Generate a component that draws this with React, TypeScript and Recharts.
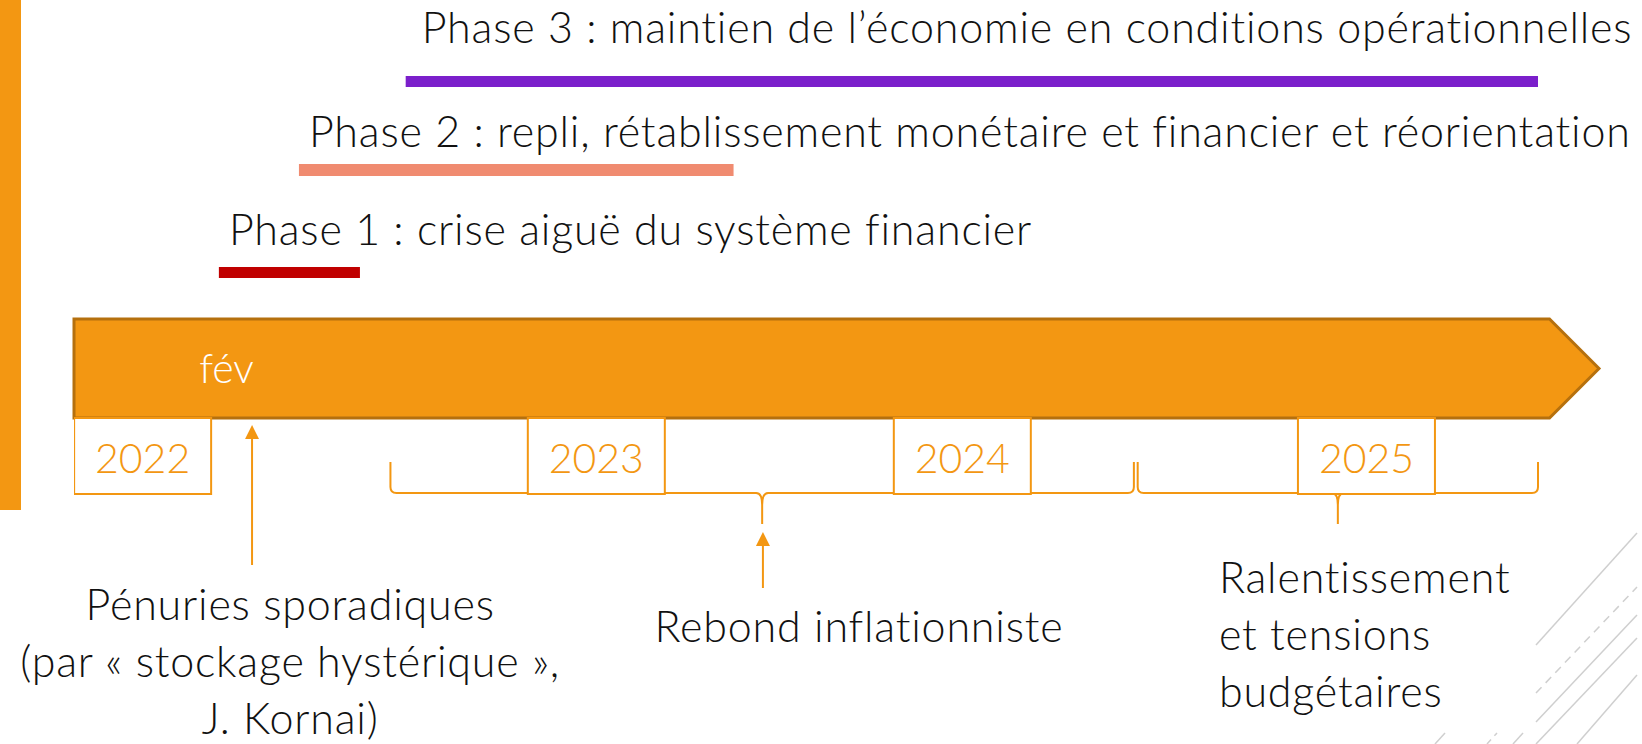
import React from "react";
import { ComposedChart, XAxis, YAxis, ReferenceArea, ReferenceDot, Scatter } from "recharts";

// ---------- data ----------
const timelineStart = 2022;
const timelineEnd = 2026;

const years = ["2022", "2023", "2024", "2025"];
const yearAt = [2022.18, 2023.37, 2024.33, 2025.39];

const phaseNames = [
  "Phase 1 : crise aiguë du système financier",
  "Phase 2 : repli, rétablissement monétaire et financier et réorientation",
  "Phase 3 : maintien de l’économie en conditions opérationnelles",
];
const phaseStart = [2022.38, 2022.59, 2022.87];
const phaseEnd = [2022.75, 2023.73, 2025.84];

const monthLabel = "fév";
const monthAt = 2022.4;

const periodStart = [2022.83, 2024.79];
const periodEnd = [2024.78, 2025.84];

const eventNames = [
  ["Pénuries sporadiques", "(par « stockage hystérique »,", "J. Kornai)"],
  ["Rebond inflationniste"],
  ["Ralentissement", "et tensions", "budgétaires"],
];
const eventAt = [2022.467, 2023.807, 2025.31];
const eventLabelAt = [2022.567, 2024.059, 2025.003];

// ---------- styles / layout ----------
const W = 1642;
const H = 744;
const ORANGE = "#F39712";
const ORANGE_DARK = "#B5700E";
const PHASE_COLORS = ["#C00000", "#F08B70", "#7B1FCB"];
const FONT = "Lato, 'Open Sans', sans-serif";

// vertical layout (px rows)
const PHASE_BAR = [
  [267, 278],
  [164, 176],
  [76, 87],
];
const PHASE_TEXT_BASE = [245, 147, 43];
const PHASE_TEXT_DX = [10, 10, 16];
const ARROW_TOP = 319;
const ARROW_BOTTOM = 418;
const YEAR_ROW = 456;
const BRACE_TOP = 462;
const BRACE_LINE = 493;
const EVENT_ARROWS = [
  { from: 565, to: 425 },
  { from: 588, to: 532 },
  null,
];
const EVENT_TEXT = [
  { base: 620, anchor: "middle" },
  { base: 642, anchor: "middle" },
  { base: 593, anchor: "start" },
];
const LINE_GAP = 57;

const ArrowShape = (p: any) => {
  const { x, y, width, height } = p;
  const head = height / 2;
  const d = `M${x},${y} L${x + width - head},${y} L${x + width},${y + height / 2} L${x + width - head},${y + height} L${x},${y + height} Z`;
  return <path d={d} fill={ORANGE} stroke={ORANGE_DARK} strokeWidth={3} strokeLinejoin="miter" />;
};

const BraceShape = (p: any) => {
  const { x, y, width, height } = p;
  const T = y;
  const L = y + height;
  const r = 6;
  const tip = 31;
  const xc = x + width / 2;
  const x2 = x + width;
  const d =
    `M${x},${T} L${x},${L - r} Q${x},${L} ${x + r},${L} L${xc - r},${L} Q${xc},${L} ${xc},${L + 12} L${xc},${L + tip} ` +
    `M${xc},${L + 12} Q${xc},${L} ${xc + r},${L} L${x2 - r},${L} Q${x2},${L} ${x2},${L - r} L${x2},${T}`;
  return <path d={d} fill="none" stroke={ORANGE} strokeWidth={2} />;
};

const YearBox = (p: any) => {
  const { cx, cy, payload } = p;
  const w = 137;
  const h = 76;
  return (
    <g>
      <rect x={cx - w / 2} y={cy - h / 2} width={w} height={h} fill="#fff" stroke={ORANGE} strokeWidth={2} />
      <text x={cx} y={cy + 17} textAnchor="middle" fontFamily={FONT} fontSize={41} fontWeight={300} fill={ORANGE}>
        {payload.label}
      </text>
    </g>
  );
};

export default function App() {
  const yearData = years.map((label, i) => ({ t: yearAt[i], y: YEAR_ROW, label }));

  return (
    <div style={{ position: "absolute", left: 0, top: 0, width: W, height: H, background: "#fff", overflow: "hidden" }}>
      <div style={{ position: "absolute", left: 0, top: 0, width: 21, height: 510, background: ORANGE }} />
      <svg style={{ position: "absolute", left: 0, top: 0 }} width={W} height={H}>
        <g stroke="#CFCFCF" strokeWidth={1.5} fill="none">
          <line x1={1536} y1={645} x2={1637} y2={533} />
          <line x1={1536} y1={693} x2={1637} y2={587} strokeDasharray="8 6" />
          <line x1={1536} y1={722} x2={1637} y2={615} />
          <line x1={1536} y1={744} x2={1637} y2={638} />
          <line x1={1577} y1={744} x2={1637} y2={675} />
          <line x1={1487} y1={744} x2={1497} y2={733} strokeDasharray="6 5" />
          <line x1={1513} y1={744} x2={1523} y2={733} />
          <line x1={1435} y1={744} x2={1445} y2={733} />
        </g>
      </svg>
      <div style={{ position: "absolute", left: 0, top: 0 }}>
        <ComposedChart width={W} height={H} margin={{ top: 0, right: 43, bottom: 0, left: 74 }} data={yearData}>
          <XAxis type="number" dataKey="t" domain={[timelineStart, timelineEnd]} hide allowDataOverflow />
          <YAxis type="number" dataKey="y" domain={[0, H]} reversed hide allowDataOverflow />

          {/* phases */}
          {phaseNames.map((name, i) => (
            <ReferenceArea
              key={"pb" + i}
              x1={phaseStart[i]}
              x2={phaseEnd[i]}
              y1={PHASE_BAR[i][0]}
              y2={PHASE_BAR[i][1]}
              fill={PHASE_COLORS[i]}
              fillOpacity={1}
              ifOverflow="visible"
            />
          ))}
          {phaseNames.map((name, i) => (
            <ReferenceDot
              key={"pt" + i}
              x={phaseStart[i]}
              y={PHASE_TEXT_BASE[i]}
              r={0}
              ifOverflow="visible"
              shape={(p: any) => (
                <text
                  x={p.cx + PHASE_TEXT_DX[i]}
                  y={p.cy}
                  fontFamily={FONT}
                  fontSize={43}
                  fontWeight={300}
                  letterSpacing={0.8}
                  fill="#111"
                >
                  {name}
                </text>
              )}
            />
          ))}

          {/* timeline arrow */}
          <ReferenceArea
            x1={timelineStart}
            x2={timelineEnd}
            y1={ARROW_TOP}
            y2={ARROW_BOTTOM}
            ifOverflow="visible"
            shape={ArrowShape}
          />
          <ReferenceDot
            x={monthAt}
            y={383}
            r={0}
            ifOverflow="visible"
            shape={(p: any) => (
              <text x={p.cx} y={p.cy} textAnchor="middle" fontFamily={FONT} fontSize={41} fontWeight={300} fill="#fff">
                {monthLabel}
              </text>
            )}
          />

          {/* periods (braces) */}
          {periodStart.map((s, i) => (
            <ReferenceArea
              key={"br" + i}
              x1={s}
              x2={periodEnd[i]}
              y1={BRACE_TOP}
              y2={BRACE_LINE}
              ifOverflow="visible"
              shape={BraceShape}
            />
          ))}

          {/* events */}
          {eventNames.map((lines, i) =>
            EVENT_ARROWS[i] ? (
              <ReferenceDot
                key={"ea" + i}
                x={eventAt[i]}
                y={EVENT_ARROWS[i]!.to}
                r={0}
                ifOverflow="visible"
                shape={(p: any) => {
                  const len = EVENT_ARROWS[i]!.from - EVENT_ARROWS[i]!.to;
                  return (
                    <g>
                      <line x1={p.cx} y1={p.cy + 12} x2={p.cx} y2={p.cy + len} stroke={ORANGE} strokeWidth={2} />
                      <path d={`M${p.cx},${p.cy} L${p.cx - 7},${p.cy + 14} L${p.cx + 7},${p.cy + 14} Z`} fill={ORANGE} />
                    </g>
                  );
                }}
              />
            ) : null
          )}
          {eventNames.map((lines, i) => (
            <ReferenceDot
              key={"et" + i}
              x={eventLabelAt[i]}
              y={EVENT_TEXT[i].base}
              r={0}
              ifOverflow="visible"
              shape={(p: any) => (
                <text
                  x={p.cx}
                  y={p.cy}
                  textAnchor={EVENT_TEXT[i].anchor as any}
                  fontFamily={FONT}
                  fontSize={43}
                  fontWeight={300}
                  letterSpacing={0.8}
                  fill="#111"
                >
                  {lines.map((ln, k) => (
                    <tspan key={k} x={p.cx} y={p.cy + k * LINE_GAP}>
                      {ln}
                    </tspan>
                  ))}
                </text>
              )}
            />
          ))}

          {/* year labels */}
          <Scatter data={yearData} dataKey="y" isAnimationActive={false} shape={YearBox} />
        </ComposedChart>
      </div>
    </div>
  );
}
